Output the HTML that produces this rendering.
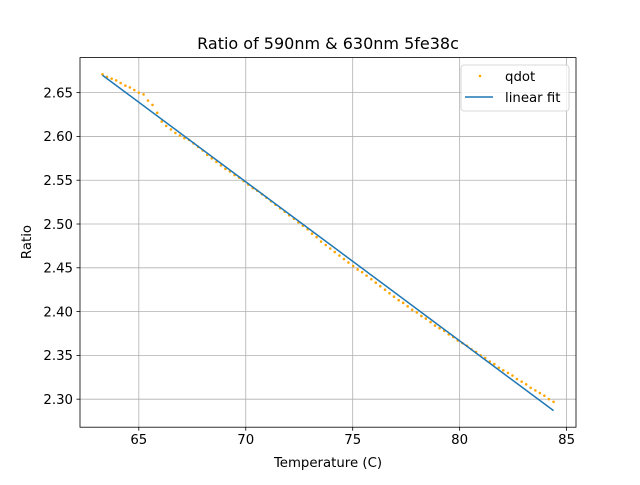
<!DOCTYPE html>
<html><head><meta charset="utf-8"><style>
body{margin:0;background:#fff}
svg{font-family:"DejaVu Sans","Liberation Sans",sans-serif}
</style></head><body>
<svg id="chart" width="640" height="480" viewBox="0 0 640 480">
<rect width="640" height="480" fill="#fff"/>
<g id="grid"></g>
<g id="marks"></g>
<rect x="80" y="57.6" width="496" height="369.6" fill="none" stroke="#000" stroke-width="0.8"/>
<g id="ticks"></g>
<text x="328" y="49" font-size="16" text-anchor="middle">Ratio of 590nm &amp; 630nm 5fe38c</text>
<text x="328" y="467" font-size="13.3" text-anchor="middle">Temperature (C)</text>
<text x="31" y="242" font-size="13.3" text-anchor="middle" transform="rotate(-90 31 242)">Ratio</text>
<g>
<rect x="461" y="65" width="108" height="46" rx="3" fill="#fff" fill-opacity="0.8" stroke="#ccc" stroke-width="0.8"/>
<circle cx="480" cy="76" r="1.3" fill="#ffa500"/>
<text x="505" y="81" font-size="13.3">qdot</text>
<line x1="465" y1="97" x2="493" y2="97" stroke="#1f77b4" stroke-width="1.5"/>
<text x="505" y="102" font-size="13.3">linear fit</text>
</g>
</svg>
<script>
const temps=[63.30,63.51,63.73,63.94,64.15,64.37,64.58,64.79,65.00,65.22,65.43,65.64,65.86,66.07,66.28,66.50,66.71,66.92,67.13,67.35,67.56,67.77,67.99,68.20,68.41,68.63,68.84,69.05,69.26,69.48,69.69,69.90,70.12,70.33,70.54,70.76,70.97,71.18,71.39,71.61,71.82,72.03,72.25,72.46,72.67,72.89,73.10,73.31,73.52,73.74,73.95,74.16,74.38,74.59,74.80,75.02,75.23,75.44,75.65,75.87,76.08,76.29,76.51,76.72,76.93,77.15,77.36,77.57,77.78,78.00,78.21,78.42,78.64,78.85,79.06,79.28,79.49,79.70,79.91,80.13,80.34,80.55,80.77,80.98,81.19,81.41,81.62,81.83,82.04,82.26,82.47,82.68,82.90,83.11,83.32,83.54,83.75,83.96,84.17,84.39];
const ratios=[2.671,2.668,2.666,2.664,2.661,2.658,2.656,2.653,2.650,2.648,2.641,2.636,2.627,2.617,2.612,2.608,2.604,2.601,2.598,2.596,2.592,2.588,2.584,2.579,2.575,2.571,2.567,2.563,2.560,2.556,2.553,2.549,2.545,2.541,2.538,2.534,2.530,2.526,2.522,2.518,2.514,2.510,2.506,2.502,2.498,2.494,2.489,2.485,2.480,2.476,2.472,2.468,2.464,2.460,2.456,2.452,2.448,2.445,2.441,2.437,2.433,2.429,2.425,2.421,2.417,2.413,2.410,2.406,2.402,2.399,2.395,2.392,2.388,2.384,2.381,2.378,2.374,2.371,2.367,2.364,2.361,2.357,2.354,2.350,2.347,2.343,2.340,2.336,2.333,2.330,2.327,2.323,2.320,2.317,2.313,2.310,2.307,2.304,2.300,2.297];
const xTicks=[65,70,75,80,85];
const yTicks=[2.30,2.35,2.40,2.45,2.50,2.55,2.60,2.65];
const xDomain=[62.25,85.44];
const yDomain=[2.268,2.690];
const L=80,R=576,T=57.6,B=427.2;
const sx=v=>L+(v-xDomain[0])/(xDomain[1]-xDomain[0])*(R-L);
const sy=v=>B-(v-yDomain[0])/(yDomain[1]-yDomain[0])*(B-T);
const NS="http://www.w3.org/2000/svg";
function mk(tag,attrs,parent){const e=document.createElementNS(NS,tag);for(const k in attrs)e.setAttribute(k,attrs[k]);parent.appendChild(e);return e;}
const grid=document.getElementById('grid'),marks=document.getElementById('marks'),ticks=document.getElementById('ticks');
xTicks.forEach(t=>{const x=sx(t);
 const g=mk('line',{x1:x,x2:x,y1:T,y2:B,stroke:'#b0b0b0','stroke-width':0.8},grid);
 
 
 const tk=mk('line',{x1:x,x2:x,y1:B,y2:B+3.5,stroke:'#000','stroke-width':0.8},ticks);
 
 
 const lb=mk('text',{x:x,y:B+17,'font-size':13.3,'text-anchor':'middle'},ticks);lb.textContent=String(t);
 
 
});
yTicks.forEach(t=>{const y=sy(t);
 const g=mk('line',{x1:L,x2:R,y1:y,y2:y,stroke:'#b0b0b0','stroke-width':0.8},grid);
 
 
 const tk=mk('line',{x1:L-3.5,x2:L,y1:y,y2:y,stroke:'#000','stroke-width':0.8},ticks);
 
 
 const lb=mk('text',{x:L-7,y:y+4.8,'font-size':13.3,'text-anchor':'end'},ticks);lb.textContent=t.toFixed(2);
 
 
});
temps.forEach((t,i)=>{
 const c=mk('circle',{cx:sx(t),cy:sy(ratios[i]),r:1.3,fill:'#ffa500'},marks);
 
 
});
// least squares fit
const n=temps.length;let mx=0,my=0;temps.forEach((t,i)=>{mx+=t;my+=ratios[i];});mx/=n;my/=n;
let sxy=0,sxx=0;temps.forEach((t,i)=>{sxy+=(t-mx)*(ratios[i]-my);sxx+=(t-mx)*(t-mx);});
const slope=sxy/sxx,icpt=my-slope*mx;
const x0=Math.min(...temps),x1=Math.max(...temps);
const fl=mk('line',{x1:sx(x0),y1:sy(slope*x0+icpt),x2:sx(x1),y2:sy(slope*x1+icpt),stroke:'#1f77b4','stroke-width':1.5},marks);


</script>
</body></html>
